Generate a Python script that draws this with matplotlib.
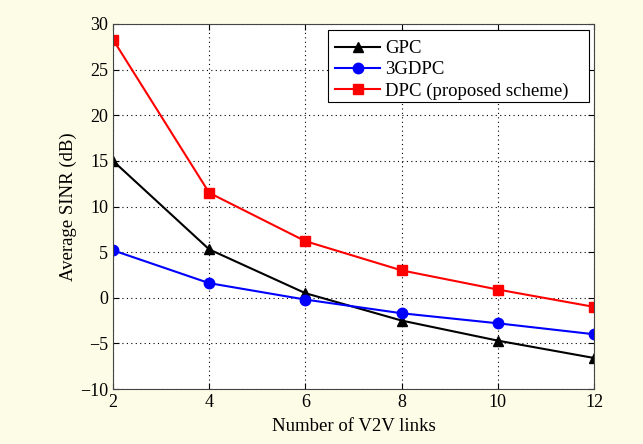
import numpy as np
import matplotlib.pyplot as plt
from matplotlib.patches import Rectangle

plt.rcParams['font.family'] = ['Liberation Serif', 'DejaVu Serif']

links = [2, 4, 6, 8, 10, 12]
gpc = [15.0, 5.3, 0.5, -2.5, -4.7, -6.6]
gdpc3 = [5.2, 1.6, -0.2, -1.7, -2.8, -4.0]
dpc = [28.3, 11.5, 6.2, 3.0, 0.9, -1.0]

W, H = 643, 444
bg = '#fdfce6'
fig = plt.figure(figsize=(W / 100, H / 100), dpi=100, facecolor=bg)
ax = fig.add_axes([113 / W, 1 - 389 / H, (594 - 113) / W, (389 - 24) / H])

ax.plot(links, gpc, color='black', marker='^', markersize=7.5, linewidth=1.5, label='GPC')
ax.plot(links, gdpc3, color='blue', marker='o', markersize=7.5, linewidth=1.5, label='3GDPC')
ax.plot(links, dpc, color='red', marker='s', markersize=7, linewidth=1.5,
        label='DPC (proposed scheme)')

ax.set_xlim(2, 12)
ax.set_ylim(-10, 30)
ax.set_xticks(links)
ax.set_yticks(np.arange(-10, 31, 5))
ax.set_yticklabels(['\u221210', '\u22125', '0', '5', '10', '15', '20', '25', '30'])
ax.grid(True, linestyle=(0, (1, 3)), color='black', linewidth=0.8)
ax.tick_params(direction='in', top=True, right=True, labelsize=13, length=4)
for s in ax.spines.values():
    s.set_linewidth(0.8)
    s.set_color('#444444')

ax.set_xlabel('Number of V2V links', fontsize=13.5, labelpad=5)
ax.set_ylabel('Average SINR (dB)', fontsize=13.5, labelpad=2)

# legend box (matlab style, extra room on the right)
box = Rectangle((328 / W, 1 - 102 / H), (589 - 328) / W, 72 / H,
                transform=fig.transFigure, facecolor='white', edgecolor='black',
                linewidth=0.8, zorder=4.5, clip_on=False)
ax.add_patch(box)
leg = ax.legend(loc='upper left', fontsize=13.5, frameon=False,
                bbox_to_anchor=(328 / W, 1 - 33 / H), bbox_transform=fig.transFigure,
                borderaxespad=0, handlelength=2.4, labelspacing=0.22,
                handletextpad=0.25, borderpad=0.38)
leg.set_zorder(5)

fig.savefig('out.png', dpi=100, facecolor=bg)
